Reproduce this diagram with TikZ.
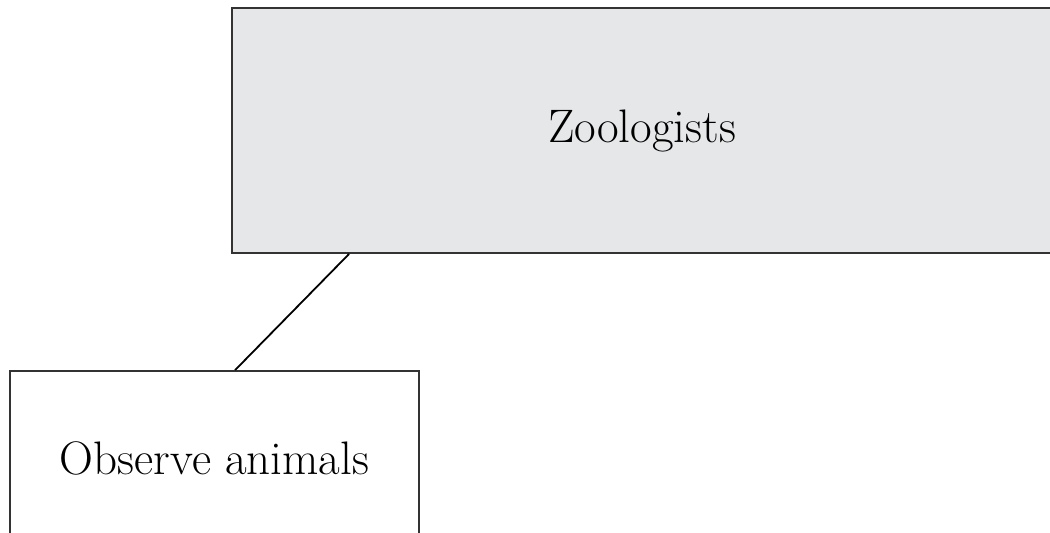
\documentclass[tikz,border=0pt]{standalone}
\usepackage{tikz}
\usetikzlibrary{positioning}
\definecolor{boxgray}{HTML}{E6E7E8}
\definecolor{edgegray}{HTML}{333333}
\tikzset {
  x={0.5pt}, y={-0.5pt},
  % rectangle vertex style
  main/.style = {draw=edgegray, line width=0.9pt, rectangle, inner sep=0pt, font=\fontsize{23.5}{28}\selectfont},
  % top group
  group/.style={fill=boxgray, minimum width=410pt, minimum height=122.5pt},
  % leaf activity
  leaf/.style={fill=white, minimum width=204.5pt, minimum height=87pt},
  link/.style={black, line width=0.9pt},
}
\begin{document}
\begin{tikzpicture}
        \useasboundingbox (0,0) rectangle (1050,533);
        \clip (0,0) rectangle (1050,533);
        \node[main, group] (zoo) at (642,130.5) {Zoologists};
        \node[main, leaf] (obs) at (214.5,458) {Observe animals};

        \draw [link] ([xshift=59pt]zoo.south west) -- ([xshift=113pt]obs.north west);
      \end{tikzpicture}
\end{document}
